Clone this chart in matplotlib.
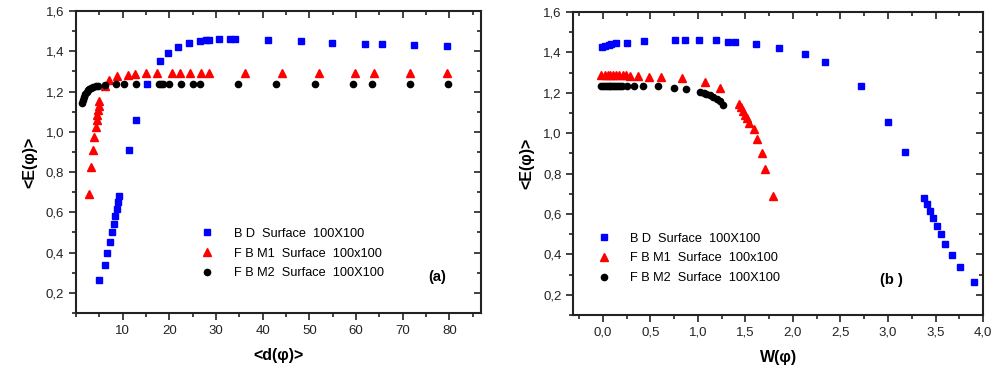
import matplotlib
matplotlib.use("Agg")
import matplotlib.pyplot as plt
from matplotlib.ticker import FuncFormatter, MultipleLocator
import numpy as np

plt.rcParams['font.family'] = ['Liberation Sans', 'DejaVu Sans']

# panel (a): <E(phi)> vs <d(phi)>
bd_d = [5.0, 6.1, 6.6, 7.3, 7.6, 8.15, 8.45, 8.75, 9.0, 9.3, 11.4, 12.8, 15.2, 18.0,
        19.6, 21.9, 24.3, 26.6, 27.8, 28.5, 30.6, 33.0, 34.0, 41.1, 48.1, 54.9,
        62.0, 65.5, 72.5, 79.5]
bd_e = [0.263, 0.339, 0.40, 0.455, 0.502, 0.544, 0.582, 0.618, 0.653, 0.681, 0.910,
        1.06, 1.237, 1.352, 1.389, 1.42, 1.44, 1.453, 1.456, 1.458, 1.461, 1.461,
        1.461, 1.456, 1.45, 1.443, 1.438, 1.435, 1.43, 1.427]
fbm1_d = [2.86, 3.15, 3.65, 3.93, 4.29, 4.44, 4.57, 4.72, 4.87, 5.0, 6.1, 7.0, 8.75,
          11.2, 12.7, 15.0, 17.45, 20.6, 22.2, 24.5, 26.8, 28.5, 36.3, 44.2, 52.1,
          59.8, 63.9, 71.6, 79.5]
fbm1_e = [0.693, 0.824, 0.908, 0.975, 1.022, 1.057, 1.085, 1.11, 1.13, 1.151, 1.229,
          1.258, 1.278, 1.283, 1.287, 1.29, 1.29, 1.29, 1.29, 1.29, 1.29, 1.29, 1.29,
          1.29, 1.29, 1.29, 1.29, 1.29, 1.29]
fbm2_d = [1.36, 1.57, 1.79, 2.0, 2.29, 2.58, 2.86, 3.29, 3.72, 4.29, 4.6, 6.2, 8.5,
          10.3, 12.8, 17.8, 18.3, 18.7, 20.0, 22.5, 25.0, 26.6, 34.7, 42.9, 51.1,
          59.3, 63.4, 71.5, 79.8]
fbm2_e = [1.143, 1.159, 1.173, 1.188, 1.20, 1.209, 1.215, 1.22, 1.224, 1.227, 1.229,
          1.233, 1.235, 1.235, 1.235, 1.235, 1.235, 1.235, 1.235, 1.235, 1.235, 1.235,
          1.235, 1.235, 1.235, 1.235, 1.235, 1.235, 1.235]

# panel (b): <E(phi)> vs W(phi)
bd_w = [-0.01, 0.02, 0.06, 0.09, 0.14, 0.25, 0.43, 0.76, 0.86, 1.01, 1.19, 1.32, 1.39,
        1.61, 1.85, 2.13, 2.34, 2.72, 3.0, 3.18, 3.38, 3.41, 3.44, 3.47, 3.52, 3.56,
        3.60, 3.67, 3.76, 3.90]
bd_we = [1.428, 1.432, 1.437, 1.442, 1.445, 1.448, 1.455, 1.46, 1.46, 1.46, 1.46,
         1.453, 1.453, 1.44, 1.42, 1.392, 1.351, 1.234, 1.057, 0.908, 0.681, 0.651,
         0.616, 0.582, 0.54, 0.50, 0.452, 0.397, 0.336, 0.262]
fbm1_w = [-0.02, 0.02, 0.05, 0.08, 0.11, 0.14, 0.17, 0.21, 0.24, 0.29, 0.37, 0.49,
          0.61, 0.83, 1.08, 1.23, 1.43, 1.45, 1.47, 1.50, 1.52, 1.54, 1.59, 1.62,
          1.67, 1.71, 1.79]
fbm1_we = [1.29, 1.29, 1.29, 1.29, 1.29, 1.29, 1.29, 1.287, 1.287, 1.285, 1.283, 1.28,
           1.277, 1.272, 1.252, 1.226, 1.143, 1.128, 1.11, 1.09, 1.074, 1.052, 1.021,
           0.97, 0.904, 0.821, 0.689]
fbm2_w = [-0.02, 0.0, 0.02, 0.04, 0.06, 0.08, 0.10, 0.12, 0.14, 0.16, 0.18, 0.20,
          0.25, 0.33, 0.42, 0.58, 0.75, 0.87, 1.02, 1.06, 1.09, 1.13, 1.16, 1.20,
          1.23, 1.26]
fbm2_we = [1.235, 1.235, 1.235, 1.235, 1.235, 1.235, 1.235, 1.235, 1.235, 1.235,
           1.235, 1.235, 1.234, 1.234, 1.233, 1.231, 1.224, 1.217, 1.206, 1.20,
           1.194, 1.188, 1.179, 1.169, 1.159, 1.141]

labels = ["B D  Surface  100X100", "F B M1  Surface  100x100", "F B M2  Surface  100X100"]

comma = FuncFormatter(lambda v, p: ("%.1f" % v).replace('.', ','))


def style(ax, xmaj, xmin):
  for s in ax.spines.values():
    s.set_linewidth(1.5)
    s.set_color('#222222')
  ax.tick_params(which='both', direction='out', top=False, right=False,
                 labelsize=9.5, colors='#222222', width=1.2)
  ax.tick_params(which='major', length=5)
  ax.tick_params(which='minor', length=3)
  sec = ax.secondary_xaxis('top')
  sec2 = ax.secondary_yaxis('right')
  sec.xaxis.set_major_locator(MultipleLocator(xmaj))
  sec.xaxis.set_minor_locator(MultipleLocator(xmin))
  sec2.yaxis.set_major_locator(MultipleLocator(0.2))
  sec2.yaxis.set_minor_locator(MultipleLocator(0.1))
  for s in (sec, sec2):
    s.tick_params(which='both', direction='in', width=1.2, colors='#222222',
                  labeltop=False, labelright=False)
    s.tick_params(which='major', length=5)
    s.tick_params(which='minor', length=3)
    s.spines[:].set_visible(False)


fig = plt.figure(figsize=(9.94, 3.74), dpi=100)
ax1 = fig.add_axes([0.0765, 0.163, 0.4075, 0.8076])
ax2 = fig.add_axes([0.5768, 0.158, 0.4122, 0.810])

ax1.plot(bd_d, bd_e, 's', color='#0000ff', ms=4.8, ls='none', label=labels[0])
ax1.plot(fbm1_d, fbm1_e, '^', color='#ff0000', ms=6, ls='none', label=labels[1])
ax1.plot(fbm2_d, fbm2_e, 'o', color='black', ms=4.5, ls='none', label=labels[2])
ax1.set_xlim(0, 86.8)
ax1.set_ylim(0.1, 1.6)
ax1.xaxis.set_minor_locator(MultipleLocator(5))
ax1.set_xticks(np.arange(10, 90, 10))
ax1.yaxis.set_major_locator(MultipleLocator(0.2))
ax1.yaxis.set_minor_locator(MultipleLocator(0.1))
ax1.yaxis.set_major_formatter(comma)
style(ax1, 10, 5)
ax1.set_xlabel("<d(φ)>", fontsize=11.5, fontweight='bold', labelpad=8)
ax1.set_ylabel("<E(φ)>", fontsize=11.5, fontweight='bold', labelpad=6)
ax1.legend(loc='lower left', bbox_to_anchor=(0.28, 0.095), frameon=False, fontsize=9.2,
           handletextpad=1.1, labelspacing=0.6, borderaxespad=0)
ax1.text(0.869, 0.119, "(a)", transform=ax1.transAxes, fontsize=10.5,
         fontweight='bold', va='center')

ax2.plot(bd_w, bd_we, 's', color='#0000ff', ms=4.8, ls='none', label=labels[0])
ax2.plot(fbm1_w, fbm1_we, '^', color='#ff0000', ms=6, ls='none', label=labels[1])
ax2.plot(fbm2_w, fbm2_we, 'o', color='black', ms=4.5, ls='none', label=labels[2])
ax2.set_xlim(-0.31, 4.0)
ax2.set_ylim(0.1, 1.6)
ax2.xaxis.set_major_locator(MultipleLocator(0.5))
ax2.xaxis.set_minor_locator(MultipleLocator(0.25))
ax2.xaxis.set_major_formatter(comma)
ax2.yaxis.set_major_locator(MultipleLocator(0.2))
ax2.yaxis.set_minor_locator(MultipleLocator(0.1))
ax2.yaxis.set_major_formatter(comma)
style(ax2, 0.5, 0.25)
ax2.set_xlabel("W(φ)", fontsize=11.5, fontweight='bold', labelpad=8)
ax2.set_ylabel("<E(φ)>", fontsize=11.5, fontweight='bold', labelpad=6)
ax2.legend(loc='lower left', bbox_to_anchor=(0.03, 0.085), frameon=False, fontsize=9.2,
           handletextpad=1.1, labelspacing=0.6, borderaxespad=0)
ax2.text(0.749, 0.115, "(b )", transform=ax2.transAxes, fontsize=10.5,
         fontweight='bold', va='center')

plt.savefig("out.png", dpi=100)
